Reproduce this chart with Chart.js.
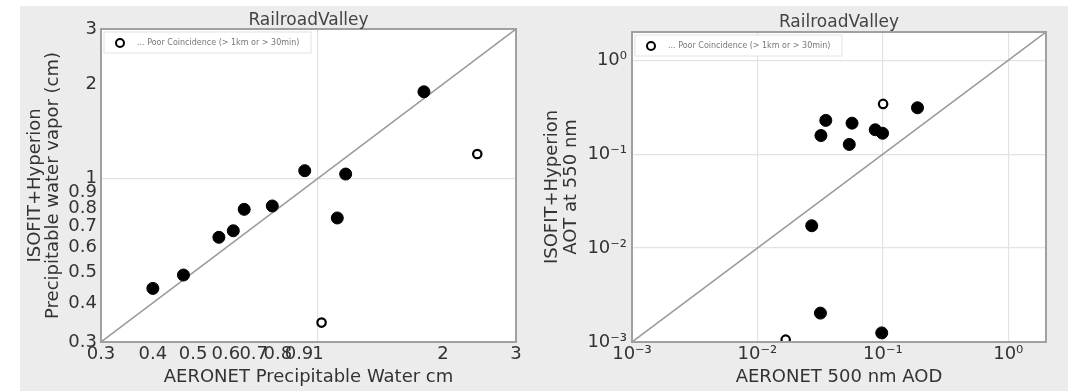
<!DOCTYPE html>
<html lang="en">
<head>
    <meta charset="UTF-8">
    <title>RailroadValley</title>
    <style>
        body {
            margin: 0;
            padding: 0;
            background-color: #ffffff;
            font-family: "DejaVu Sans", sans-serif;
        }

        .figure {
            position: absolute;
            left: 20px;
            top: 6px;
            width: 1048px;
            height: 385px;
            background-color: #ececec;
        }

        canvas {
            position: absolute;
            top: 6px;
        }

        #waterChart { left: 20px; }
        #aotChart { left: 534px; }
    </style>
</head>
<body>
    <div class="figure"></div>
    <canvas id="waterChart" width="514" height="385"></canvas>
    <canvas id="aotChart" width="534" height="385"></canvas>

    <script src="https://cdn.jsdelivr.net/npm/chart.js"></script>
    <script>
        // Precipitable water (left panel)
        const waterX = [0.40, 0.474, 0.577, 0.625, 0.664, 0.776, 0.929, 1.113, 1.166, 1.80];
        const waterY = [0.445, 0.491, 0.648, 0.680, 0.796, 0.816, 1.058, 0.747, 1.032, 1.89];
        const waterPoorX = [2.42, 1.02];
        const waterPoorY = [1.196, 0.346];
        const waterTicks = [0.3, 0.4, 0.5, 0.6, 0.7, 0.8, 0.9, 1, 2, 3];
        const waterTickLabels = ['0.3', '0.4', '0.5', '0.6', '0.7', '0.8', '0.9', '1', '2', '3'];
        const waterRange = [0.3, 3];

        // Aerosol optical thickness (right panel)
        const aotX = [0.0351, 0.0321, 0.0568, 0.054, 0.087, 0.0995, 0.189, 0.0271, 0.0318, 0.098];
        const aotY = [0.229, 0.158, 0.214, 0.127, 0.182, 0.167, 0.312, 0.0173, 0.00203, 0.00125];
        const aotPoorX = [0.1005, 0.0168];
        const aotPoorY = [0.343, 0.00106];
        const aotTicks = [0.001, 0.01, 0.1, 1];
        const aotTickLabels = ['10\u207B\u00B3', '10\u207B\u00B2', '10\u207B\u00B9', '10\u2070'];
        const aotRange = [0.001, 2];

        const legendText = '... Poor Coincidence (> 1km or > 30min)';
        const textColor = '#333333';

        // white axes background, frame, title and the small legend inside the axes
        const panelPlugin = {
            id: 'panel',
            beforeDraw(chart) {
                const ctx = chart.ctx;
                const a = chart.chartArea;
                ctx.save();
                ctx.fillStyle = '#ffffff';
                ctx.fillRect(a.left, a.top, a.right - a.left, a.bottom - a.top);
                ctx.restore();
            },
            afterDraw(chart, args, opts) {
                const ctx = chart.ctx;
                const a = chart.chartArea;
                ctx.save();
                ctx.strokeStyle = '#a0a0a0';
                ctx.lineWidth = 2;
                ctx.strokeRect(a.left, a.top, a.right - a.left, a.bottom - a.top);

                ctx.fillStyle = '#444444';
                ctx.font = '17px "DejaVu Sans"';
                ctx.textAlign = 'center';
                ctx.textBaseline = 'middle';
                ctx.fillText(opts.title, (a.left + a.right) / 2, opts.titleY);

                const lx = a.left + 3, ly = a.top + 3;
                ctx.fillStyle = 'rgba(255,255,255,0.9)';
                ctx.strokeStyle = '#e2e2e2';
                ctx.lineWidth = 1;
                ctx.fillRect(lx, ly, opts.legendWidth, 21);
                ctx.strokeRect(lx, ly, opts.legendWidth, 21);
                ctx.beginPath();
                ctx.arc(lx + 16, ly + 11, 4, 0, Math.PI * 2);
                ctx.strokeStyle = '#000000';
                ctx.lineWidth = 2;
                ctx.stroke();
                ctx.fillStyle = '#777777';
                ctx.font = '8px "DejaVu Sans"';
                ctx.textAlign = 'left';
                ctx.fillText(legendText, lx + 33, ly + 11);
                ctx.restore();
            }
        };

        function makeChart(id, d) {
            const ctx = document.getElementById(id).getContext('2d');
            return new Chart(ctx, {
                type: 'scatter',
                data: {
                    datasets: [
                        {
                            type: 'line',
                            data: d.range.map(v => ({ x: v, y: v })),
                            borderColor: '#9a9a9a',
                            borderWidth: 1.5,
                            pointRadius: 0,
                            order: 3
                        },
                        {
                            data: d.x.map((v, i) => ({ x: v, y: d.y[i] })),
                            backgroundColor: '#000000',
                            borderColor: '#000000',
                            pointRadius: 6,
                            order: 1
                        },
                        {
                            data: d.poorX.map((v, i) => ({ x: v, y: d.poorY[i] })),
                            backgroundColor: '#ffffff',
                            borderColor: '#000000',
                            borderWidth: 2.2,
                            pointRadius: 4.2,
                            clip: 0,
                            order: 2
                        }
                    ]
                },
                options: {
                    responsive: false,
                    animation: false,
                    layout: {
                        padding: { top: d.area.top, right: d.area.right, bottom: 0, left: 0 }
                    },
                    plugins: {
                        legend: { display: false },
                        tooltip: { enabled: false },
                        panel: { title: 'RailroadValley', titleY: d.titleY, legendWidth: d.legendWidth }
                    },
                    scales: {
                        x: {
                            type: 'logarithmic',
                            min: d.range[0],
                            max: d.range[1],
                            afterBuildTicks: s => { s.ticks = d.ticks.map(v => ({ value: v })); },
                            afterFit: s => { s.height = d.area.xHeight; },
                            ticks: {
                                autoSkip: false,
                                maxRotation: 0,
                                padding: 2,
                                color: textColor,
                                font: { family: 'DejaVu Sans', size: 18 },
                                callback: (v, i) => d.tickLabels[i]
                            },
                            grid: { color: d.gridColor, drawTicks: false, lineWidth: 1.2 },
                            border: { display: false },
                            title: {
                                display: true,
                                text: d.xTitle,
                                color: textColor,
                                font: { family: 'DejaVu Sans', size: 18, lineHeight: 1 },
                                padding: { top: 0, bottom: 5 }
                            }
                        },
                        y: {
                            type: 'logarithmic',
                            min: d.range[0],
                            max: d.range[1],
                            afterBuildTicks: s => { s.ticks = d.ticks.map(v => ({ value: v })); },
                            afterFit: s => { s.width = d.area.yWidth; },
                            ticks: {
                                autoSkip: false,
                                padding: d.yTickPad,
                                color: textColor,
                                font: { family: 'DejaVu Sans', size: 18 },
                                callback: (v, i) => d.tickLabels[i]
                            },
                            grid: { color: d.gridColor, drawTicks: false, lineWidth: 1.2 },
                            border: { display: false },
                            title: {
                                display: true,
                                text: d.yTitle,
                                color: textColor,
                                font: { family: 'DejaVu Sans', size: 18, lineHeight: d.yLineHeight },
                                padding: { top: d.yTitlePad, bottom: 0 }
                            }
                        }
                    }
                },
                plugins: [panelPlugin]
            });
        }

        makeChart('waterChart', {
            x: waterX, y: waterY, poorX: waterPoorX, poorY: waterPoorY,
            ticks: waterTicks, tickLabels: waterTickLabels, range: waterRange,
            area: { top: 23, right: 18, xHeight: 49, yWidth: 81 },
            gridColor: c => (c.tick && c.tick.value === 1 ? '#e2e2e2' : 'rgba(0,0,0,0)'),
            xTitle: 'AERONET Precipitable Water cm',
            yTitle: ['ISOFIT+Hyperion', 'Precipitable water vapor (cm)'],
            yLineHeight: 1.0, yTitlePad: 6, yTickPad: 4,
            titleY: 15, legendWidth: 207
        });

        makeChart('aotChart', {
            x: aotX, y: aotY, poorX: aotPoorX, poorY: aotPoorY,
            ticks: aotTicks, tickLabels: aotTickLabels, range: aotRange,
            area: { top: 26, right: 22, xHeight: 49, yWidth: 98 },
            gridColor: '#e3e3e3',
            xTitle: 'AERONET 500 nm AOD',
            yTitle: ['ISOFIT+Hyperion', 'AOT at 550 nm'],
            yLineHeight: 1.1, yTitlePad: 8, yTickPad: 5,
            titleY: 17, legendWidth: 207
        });
    </script>
</body>
</html>
